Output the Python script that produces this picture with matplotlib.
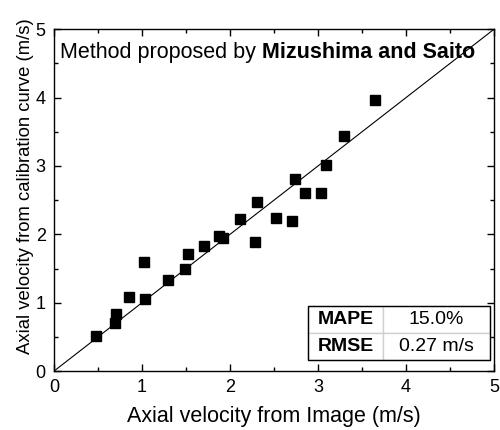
import matplotlib
matplotlib.use("Agg")
import matplotlib.pyplot as plt
from matplotlib.patches import Rectangle

plt.rcParams['font.family'] = ['Liberation Sans', 'DejaVu Sans']

# velocity from image vs. velocity from calibration curve (m/s)
v_image = [0.48, 0.69, 0.71, 0.85, 1.02, 1.03, 1.29, 1.49, 1.52, 1.71, 1.88,
           1.92, 2.11, 2.28, 2.31, 2.52, 2.71, 2.74, 2.85, 3.03, 3.09, 3.29, 3.65]
v_calib = [0.52, 0.71, 0.84, 1.09, 1.59, 1.05, 1.33, 1.50, 1.71, 1.83, 1.98,
           1.95, 2.23, 1.89, 2.47, 2.24, 2.19, 2.81, 2.61, 2.60, 3.02, 3.44, 3.97]
stat_names = ["MAPE", "RMSE"]
stat_values = ["15.0%", "0.27 m/s"]
lims = [0, 5]

fig = plt.figure(figsize=(5, 4.3), dpi=100)
ax = fig.add_axes([0.108, 0.137, 0.88, 0.795])

ax.plot(lims, lims, color='black', lw=0.8, zorder=1)
ax.plot(v_image, v_calib, 's', color='black', markersize=7.5, zorder=2)

ax.set_xlim(lims)
ax.set_ylim(lims)
ax.set_xticks(range(6))
ax.set_yticks(range(6))
ax.set_xticks([i + 0.5 for i in range(5)], minor=True)
ax.set_yticks([i + 0.5 for i in range(5)], minor=True)
ax.tick_params(which='both', direction='in', top=True, right=True, labelsize=13)
ax.tick_params(which='major', length=5, width=1, pad=6)
ax.tick_params(which='minor', length=3, width=1)
for s in ax.spines.values():
    s.set_linewidth(1.0)

ax.set_xlabel("Axial velocity from Image (m/s)", fontsize=15.5, labelpad=7)
ax.set_ylabel("Axial velocity from calibration curve (m/s)", fontsize=13.3)
ax.yaxis.set_label_coords(-0.045, 0.54)

t1 = ax.text(0.013, 0.933, "Method proposed by ", transform=ax.transAxes,
             fontsize=15.5, va='center', ha='left')
ax.annotate("Mizushima and Saito", xy=(1, 0.5), xycoords=t1, va='center',
            ha='left', fontsize=15.5, fontweight='bold')

tbl = ax.table(cellText=[[n, v] for n, v in zip(stat_names, stat_values)],
               colWidths=[0.41, 0.59], cellLoc='center',
               bbox=[0.578, 0.032, 0.413, 0.159])
tbl.auto_set_font_size(False)
for (r, c), cell in tbl.get_celld().items():
    cell.set_edgecolor('#d0d0d0')
    cell.set_linewidth(1.0)
    cell.get_text().set_fontsize(14)
    if c == 0:
        cell.get_text().set_fontweight('bold')
tbl.set_zorder(3)
ax.add_patch(Rectangle((0.578, 0.032), 0.413, 0.159, transform=ax.transAxes,
                       fill=False, edgecolor='black', lw=1.0, zorder=4))

fig.savefig("out.png", dpi=100)
